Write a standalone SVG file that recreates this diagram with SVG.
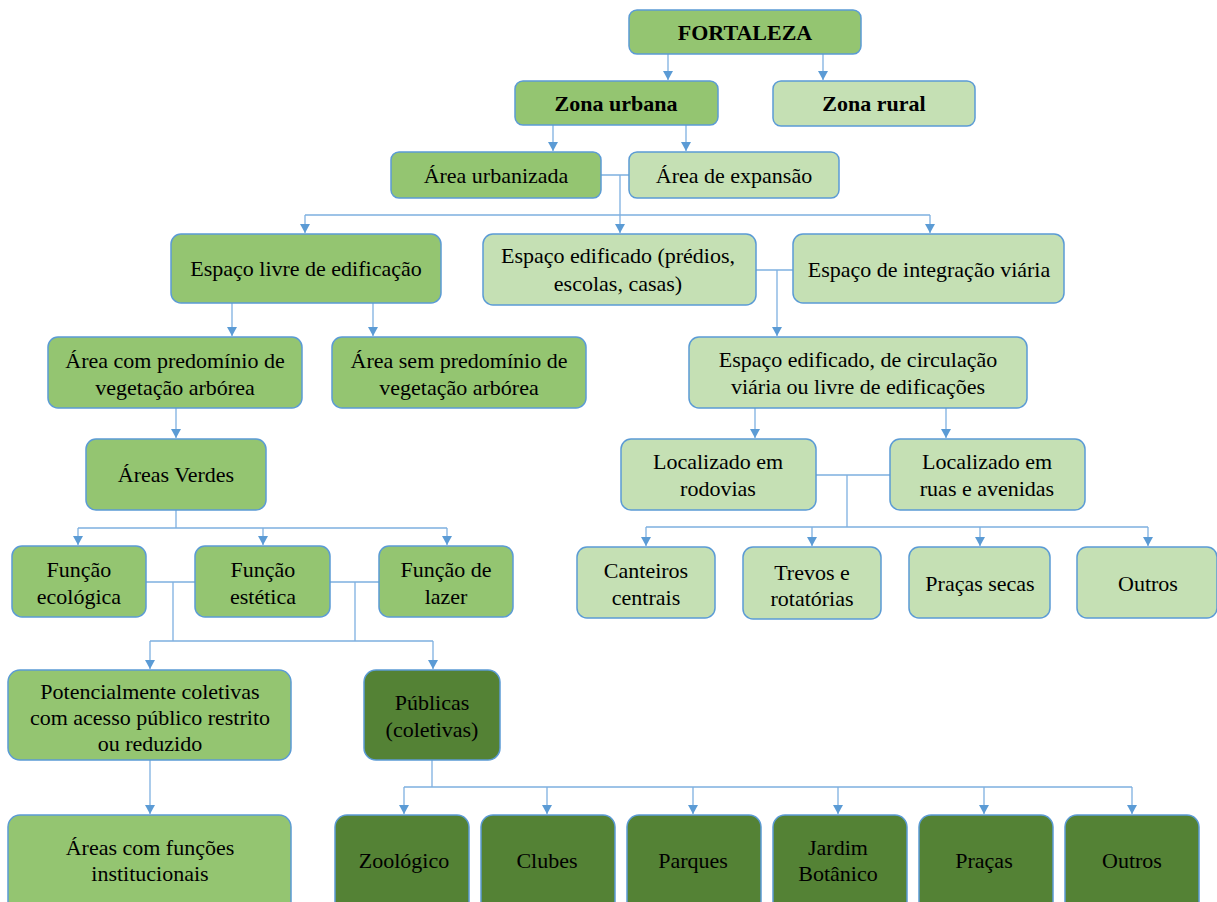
<svg xmlns="http://www.w3.org/2000/svg" width="1217" height="902" viewBox="0 0 1217 902" font-family="Liberation Serif, 'Times New Roman', 'DejaVu Serif', serif">
<defs>
<style>
.m{fill:#94C571;stroke:#5B9BD5;stroke-width:1.5}
.l{fill:#C5E0B4;stroke:#5B9BD5;stroke-width:1.5}
.d{fill:#548235;stroke:#5B9BD5;stroke-width:1.5}
text{font-size:22px;fill:#000;text-anchor:middle}
.b{font-weight:bold}
.c{fill:none;stroke:#7EB0E0;stroke-width:1.3}
</style>
<marker id="ar" markerWidth="10" markerHeight="10" refX="9" refY="5" orient="auto" markerUnits="userSpaceOnUse" viewBox="0 0 10 10">
<path d="M0,0 L9,5 L0,10 Z" fill="#5B9BD5"/>
</marker>
</defs>
<g id="connectors">
<path class="c" d="M668,54 V80" marker-end="url(#ar)"/>
<path class="c" d="M823,54 V80" marker-end="url(#ar)"/>
<path class="c" d="M553,125 V151" marker-end="url(#ar)"/>
<path class="c" d="M686,125 V151" marker-end="url(#ar)"/>
<path class="c" d="M601,175 H629 M620,175 V215 M305,215 H930"/>
<path class="c" d="M305,215 V233" marker-end="url(#ar)"/>
<path class="c" d="M620,215 V233" marker-end="url(#ar)"/>
<path class="c" d="M930,215 V233" marker-end="url(#ar)"/>
<path class="c" d="M232,303 V336" marker-end="url(#ar)"/>
<path class="c" d="M373,303 V336" marker-end="url(#ar)"/>
<path class="c" d="M756,270 H793"/>
<path class="c" d="M777,270 V336" marker-end="url(#ar)"/>
<path class="c" d="M176,408 V438" marker-end="url(#ar)"/>
<path class="c" d="M176,510 V528 M78,528 H447"/>
<path class="c" d="M78,528 V545" marker-end="url(#ar)"/>
<path class="c" d="M263,528 V545" marker-end="url(#ar)"/>
<path class="c" d="M447,528 V545" marker-end="url(#ar)"/>
<path class="c" d="M146,582 H195 M173,582 V641 M330,582 H379 M355,582 V641 M150,641 H433"/>
<path class="c" d="M150,641 V669" marker-end="url(#ar)"/>
<path class="c" d="M433,641 V669" marker-end="url(#ar)"/>
<path class="c" d="M150,760 V814" marker-end="url(#ar)"/>
<path class="c" d="M432,760 V787 M404,787 H1132"/>
<path class="c" d="M404,787 V814" marker-end="url(#ar)"/>
<path class="c" d="M547,787 V814" marker-end="url(#ar)"/>
<path class="c" d="M693,787 V814" marker-end="url(#ar)"/>
<path class="c" d="M838,787 V814" marker-end="url(#ar)"/>
<path class="c" d="M984,787 V814" marker-end="url(#ar)"/>
<path class="c" d="M1132,787 V814" marker-end="url(#ar)"/>
<path class="c" d="M755,408 V438" marker-end="url(#ar)"/>
<path class="c" d="M946,408 V438" marker-end="url(#ar)"/>
<path class="c" d="M816,475 H890 M847,475 V527 M646,527 H1148"/>
<path class="c" d="M646,527 V546" marker-end="url(#ar)"/>
<path class="c" d="M812,527 V546" marker-end="url(#ar)"/>
<path class="c" d="M980,527 V546" marker-end="url(#ar)"/>
<path class="c" d="M1148,527 V546" marker-end="url(#ar)"/>
</g>
<g id="fortaleza"><rect class="m" x="629" y="10" width="232" height="44" rx="8"/><text class="b" x="745" y="40">FORTALEZA</text></g>
<g id="zona-urbana"><rect class="m" x="515" y="81" width="203" height="44" rx="8"/><text class="b" x="616" y="111">Zona urbana</text></g>
<g id="zona-rural"><rect class="l" x="773" y="81" width="202" height="45" rx="8"/><text class="b" x="874" y="111">Zona rural</text></g>
<g id="area-urbanizada"><rect class="m" x="391" y="152" width="210" height="46" rx="8"/><text x="496" y="183">Área urbanizada</text></g>
<g id="area-expansao"><rect class="l" x="629" y="152" width="210" height="46" rx="8"/><text x="734" y="183">Área de expansão</text></g>
<g id="espaco-livre"><rect class="m" x="171" y="234" width="270" height="69" rx="10"/><text x="306" y="276">Espaço livre de edificação</text></g>
<g id="espaco-edificado"><rect class="l" x="483" y="234" width="273" height="71" rx="10"/><text x="618" y="263">Espaço edificado (prédios,</text><text x="618" y="291">escolas, casas)</text></g>
<g id="espaco-integracao"><rect class="l" x="793" y="234" width="271" height="69" rx="10"/><text x="929" y="277">Espaço de integração viária</text></g>
<g id="area-com"><rect class="m" x="48" y="337" width="254" height="71" rx="10"/><text x="175" y="368">Área com predomínio de</text><text x="175" y="395">vegetação arbórea</text></g>
<g id="area-sem"><rect class="m" x="332" y="337" width="254" height="71" rx="10"/><text x="459" y="368">Área sem predomínio de</text><text x="459" y="395">vegetação arbórea</text></g>
<g id="espaco-circulacao"><rect class="l" x="689" y="337" width="338" height="71" rx="10"/><text x="858" y="367">Espaço edificado, de circulação</text><text x="858" y="394">viária ou livre de edificações</text></g>
<g id="areas-verdes"><rect class="m" x="86" y="439" width="180" height="71" rx="10"/><text x="176" y="482">Áreas Verdes</text></g>
<g id="rodovias"><rect class="l" x="621" y="439" width="195" height="71" rx="10"/><text x="718" y="469">Localizado em</text><text x="718" y="496">rodovias</text></g>
<g id="ruas"><rect class="l" x="890" y="439" width="195" height="71" rx="10"/><text x="987" y="469">Localizado em</text><text x="987" y="496">ruas e avenidas</text></g>
<g id="funcao-ecologica"><rect class="m" x="12" y="546" width="134" height="71" rx="10"/><text x="79" y="577">Função</text><text x="79" y="604">ecológica</text></g>
<g id="funcao-estetica"><rect class="m" x="195" y="546" width="135" height="71" rx="10"/><text x="263" y="577">Função</text><text x="263" y="604">estética</text></g>
<g id="funcao-lazer"><rect class="m" x="379" y="546" width="134" height="71" rx="10"/><text x="446" y="577">Função de</text><text x="446" y="604">lazer</text></g>
<g id="canteiros"><rect class="l" x="577" y="547" width="138" height="71" rx="10"/><text x="646" y="578">Canteiros</text><text x="646" y="605">centrais</text></g>
<g id="trevos"><rect class="l" x="743" y="547" width="138" height="72" rx="10"/><text x="812" y="580">Trevos e</text><text x="812" y="606">rotatórias</text></g>
<g id="pracas-secas"><rect class="l" x="909" y="547" width="141" height="71" rx="10"/><text x="980" y="591">Praças secas</text></g>
<g id="outros-1"><rect class="l" x="1077" y="547" width="140" height="71" rx="10"/><text x="1148" y="591">Outros</text></g>
<g id="potencialmente"><rect class="m" x="8" y="670" width="283" height="90" rx="12"/><text x="150" y="699">Potencialmente coletivas</text><text x="150" y="725">com acesso público restrito</text><text x="150" y="751">ou reduzido</text></g>
<g id="publicas"><rect class="d" x="364" y="670" width="136" height="90" rx="12"/><text x="432" y="710">Públicas</text><text x="432" y="737">(coletivas)</text></g>
<g id="institucionais"><rect class="m" x="8" y="815" width="283" height="100" rx="12"/><text x="150" y="855">Áreas com funções</text><text x="150" y="881">institucionais</text></g>
<g id="zoologico"><rect class="d" x="335" y="815" width="134" height="100" rx="12"/><text x="404" y="868">Zoológico</text></g>
<g id="clubes"><rect class="d" x="481" y="815" width="134" height="100" rx="12"/><text x="547" y="868">Clubes</text></g>
<g id="parques"><rect class="d" x="627" y="815" width="134" height="100" rx="12"/><text x="693" y="868">Parques</text></g>
<g id="jardim"><rect class="d" x="773" y="815" width="134" height="100" rx="12"/><text x="838" y="855">Jardim</text><text x="838" y="881">Botânico</text></g>
<g id="pracas"><rect class="d" x="919" y="815" width="134" height="100" rx="12"/><text x="984" y="868">Praças</text></g>
<g id="outros-2"><rect class="d" x="1065" y="815" width="134" height="100" rx="12"/><text x="1132" y="868">Outros</text></g>
</svg>
